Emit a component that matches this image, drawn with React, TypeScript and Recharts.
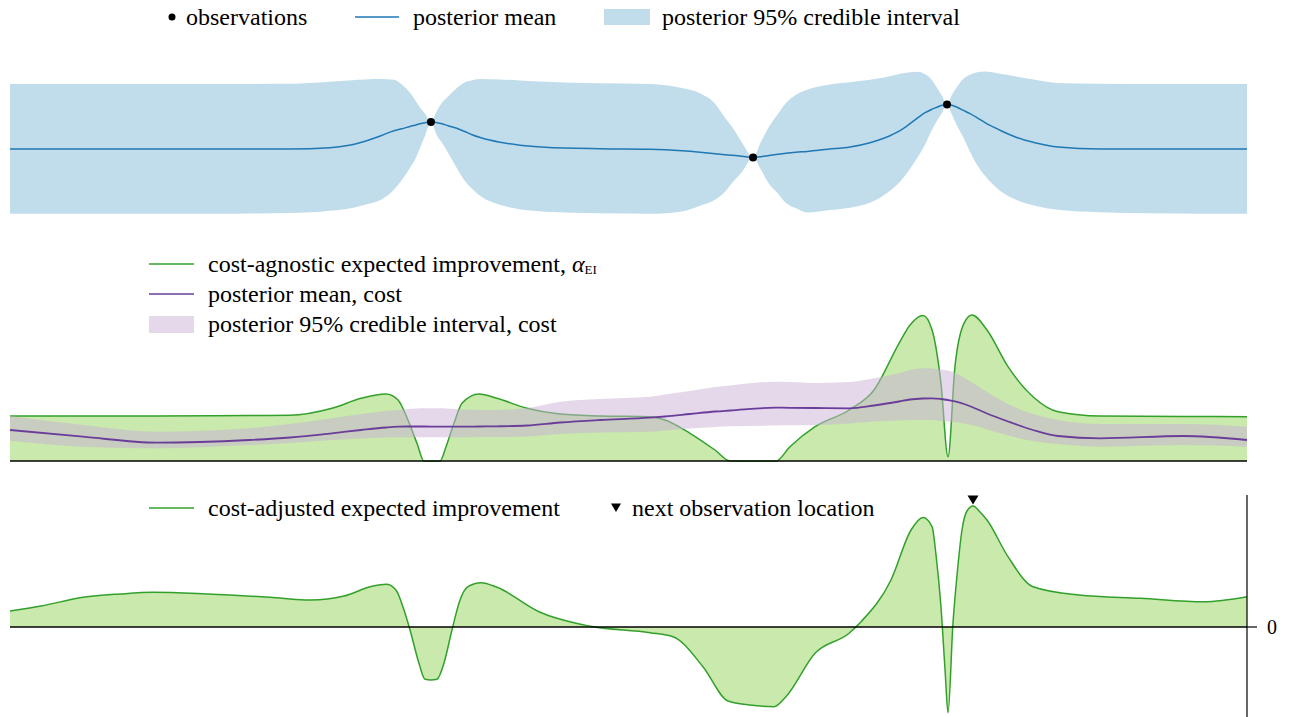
import React from 'react';
import { ComposedChart, Area, Line, Scatter, XAxis, YAxis, ReferenceLine } from 'recharts';

// top panel: objective posterior
const topX = [0, 7.28, 15.36, 22.64, 25.87, 27.65, 28.7, 29.99, 31.04, 31.69, 32.34, 32.74, 33.15, 33.55, 34.03, 34.52, 34.92, 35.41, 36.06, 36.7, 37.35, 38.08, 39.61, 41.23, 43.25, 47.7, 51.74, 54.33, 55.78, 57.0, 57.8, 58.37, 59.18, 60.07, 60.71, 61.36, 62.09, 62.73, 63.54, 64.43, 66.13, 67.91, 69.52, 71.14, 71.95, 72.76, 73.4, 73.97, 74.45, 74.94, 75.34, 75.75, 76.15, 76.56, 77.04, 77.61, 78.17, 78.82, 80.03, 81.33, 82.86, 84.72, 88.12, 92.16, 96.2, 100];
const topHi = [6.5, 6.5, 6.5, 6.53, 6.73, 6.88, 6.96, 7.0, 6.93, 6.43, 5.63, 4.93, 4.13, 3.53, 2.7, 3.83, 4.63, 5.26, 6.03, 6.63, 6.88, 7.0, 6.95, 6.86, 6.73, 6.58, 6.5, 6.1, 5.58, 4.53, 3.13, 2.23, 0.63, -0.84, 0.73, 2.23, 3.53, 4.6, 5.43, 5.93, 6.43, 6.68, 6.93, 7.28, 7.53, 7.68, 7.73, 7.48, 7.03, 6.13, 5.33, 4.46, 5.43, 6.23, 6.98, 7.43, 7.68, 7.76, 7.53, 7.26, 6.93, 6.6, 6.53, 6.5, 6.5, 6.5];
const topLo = [-6.47, -6.47, -6.47, -6.4, -6.17, -5.9, -5.57, -5.07, -4.07, -3.07, -1.87, -1.07, 0.13, 1.33, 2.7, 1.33, 0.63, -0.37, -1.77, -3.07, -3.97, -4.74, -5.57, -6.02, -6.27, -6.42, -6.47, -6.24, -5.67, -5.07, -4.27, -3.4, -2.27, -0.84, -2.07, -3.47, -4.47, -5.4, -5.92, -6.34, -6.12, -5.87, -5.37, -4.17, -3.27, -1.97, -0.77, 0.43, 1.73, 2.83, 3.63, 4.46, 3.43, 2.33, 1.23, -0.27, -1.57, -2.67, -4.17, -5.07, -5.67, -6.07, -6.32, -6.42, -6.47, -6.47];
const topMean = [0, 0, 0, 0, 0.13, 0.43, 0.78, 1.33, 1.83, 2.03, 2.26, 2.38, 2.53, 2.63, 2.7, 2.63, 2.53, 2.33, 2.1, 1.78, 1.43, 1.13, 0.68, 0.38, 0.18, 0.03, -0.02, -0.17, -0.32, -0.47, -0.57, -0.62, -0.72, -0.84, -0.77, -0.65, -0.52, -0.42, -0.32, -0.24, -0.02, 0.2, 0.63, 1.33, 1.83, 2.53, 3.13, 3.63, 3.93, 4.18, 4.38, 4.46, 4.38, 4.18, 3.88, 3.53, 3.13, 2.63, 1.88, 1.18, 0.63, 0.2, 0, 0, 0, 0];
const obsX = [34.03, 60.07, 75.75];
const obsY = [2.7, -0.84, 4.46];

// middle panel: cost-agnostic EI and cost model
const midX = [0, 5.9, 11.88, 19.32, 22.64, 26.03, 28.38, 30.4, 31.37, 32.17, 32.9, 33.47, 34.76, 35.25, 35.89, 36.54, 37.91, 39.37, 41.79, 44.46, 47.7, 51.74, 52.95, 54.97, 56.99, 58.21, 61.92, 63.05, 65.08, 67.83, 69.85, 71.87, 72.76, 73.81, 74.54, 75.26, 75.83, 76.39, 77.12, 77.77, 78.98, 80.68, 82.7, 84.72, 88.12, 94.83, 100];
const eiAgnostic = [4.5, 4.5, 4.5, 4.55, 4.57, 5.27, 6.27, 6.7, 6.1, 4.1, 1.77, 0, 0, 1.43, 3.77, 5.77, 6.7, 6.27, 5.27, 4.7, 4.5, 4.43, 4.1, 2.77, 1.1, 0, 0, 1.43, 3.43, 5.1, 7.1, 11.77, 13.6, 14.55, 13.1, 7.77, 0.43, 9.43, 13.77, 14.6, 13.1, 9.43, 6.43, 4.93, 4.5, 4.45, 4.43];
const costMean = [3.1, 2.43, 1.83, 2.1, 2.35, 2.77, 3.1, 3.35, 3.43, 3.45, 3.45, 3.45, 3.43, 3.43, 3.43, 3.43, 3.45, 3.47, 3.55, 3.85, 4.1, 4.33, 4.45, 4.7, 4.95, 5.05, 5.33, 5.32, 5.3, 5.27, 5.55, 5.95, 6.15, 6.25, 6.27, 6.2, 6.1, 5.97, 5.7, 5.4, 4.75, 3.95, 3.1, 2.5, 2.27, 2.5, 2.1];
const costHi = [4.5, 3.6, 2.93, 3.27, 3.7, 4.27, 4.7, 5.0, 5.1, 5.2, 5.25, 5.27, 5.27, 5.25, 5.2, 5.15, 5.1, 5.1, 5.3, 5.93, 6.2, 6.43, 6.65, 7.0, 7.4, 7.55, 7.93, 7.9, 7.8, 7.9, 8.27, 8.8, 9.1, 9.27, 9.25, 9.15, 9.05, 8.8, 8.35, 7.85, 6.9, 5.7, 4.7, 4.1, 3.7, 3.7, 3.43];
const costLo = [2.03, 1.43, 1.27, 1.6, 1.8, 2.1, 2.25, 2.35, 2.37, 2.37, 2.37, 2.37, 2.37, 2.37, 2.37, 2.37, 2.4, 2.4, 2.45, 2.7, 2.85, 2.93, 3.05, 3.25, 3.4, 3.47, 3.55, 3.57, 3.6, 3.75, 3.95, 4.05, 4.1, 4.1, 4.1, 4.0, 3.95, 3.9, 3.75, 3.6, 3.15, 2.55, 2.0, 1.7, 1.43, 1.6, 1.43];

// bottom panel: cost-adjusted EI
const botX = [0, 2.51, 5.9, 8.89, 11.56, 15.93, 21.02, 24.33, 27.0, 29.35, 30.4, 31.2, 31.85, 32.34, 33.06, 33.55, 34.03, 34.52, 35.08, 35.73, 36.38, 37.02, 38.08, 39.37, 42.76, 46.81, 51.74, 53.6, 56.02, 58.04, 59.82, 61.76, 62.73, 65.08, 67.83, 68.8, 71.22, 72.84, 73.81, 74.54, 74.86, 75.26, 75.59, 75.83, 76.23, 76.56, 76.96, 77.36, 77.85, 78.42, 78.98, 80.68, 82.7, 86.42, 91.43, 96.52, 100];
const eiAdjusted = [1.6, 2.1, 2.97, 3.3, 3.47, 3.3, 2.97, 2.7, 3.1, 4.1, 4.27, 3.7, 1.7, -0.3, -3.63, -5.23, -5.3, -5.23, -3.63, -0.3, 2.7, 4.03, 4.43, 3.97, 1.53, 0.1, -0.57, -0.97, -3.97, -7.4, -7.8, -7.97, -6.97, -2.63, -0.63, 0.53, 4.7, 9.7, 10.95, 10.03, 7.2, 2.03, -4.3, -8.57, 0.37, 5.2, 9.7, 11.6, 12.1, 11.5, 10.7, 7.03, 4.03, 3.2, 2.87, 2.53, 3.03];
const nextX = [77.85];
const nextY = [12.7];
const zeroTick = [0];

const topRows = topX.map((x, i) => ({ x, mean: topMean[i], band: [topLo[i], topHi[i]] }));
const obsRows = obsX.map((x, i) => ({ x, y: obsY[i] }));
const midRows = midX.map((x, i) => ({ x, ei: eiAgnostic[i], cost: costMean[i], costBand: [costLo[i], costHi[i]] }));
const botRows = botX.map((x, i) => ({ x, ei: eiAdjusted[i] }));
const nextRows = nextX.map((x, i) => ({ x, y: nextY[i] }));

const FONT = '"Liberation Serif", "DejaVu Serif", serif';
const W = 1295;
const BLUE = '#1f78b4';
const LBLUE = '#a6cee3';
const GREEN = '#33a02c';
const LGREEN = '#b2df8a';
const PURPLE = '#6a3d9a';
const LPURPLE = '#cab2d6';

const Dot = (p: any) => <circle cx={p.cx} cy={p.cy} r={4} fill="#000" />;
const DownTri = (p: any) => (
  <path d={`M${p.cx - 5.5},${p.cy - 4.5}L${p.cx + 5.5},${p.cy - 4.5}L${p.cx},${p.cy + 4.5}Z`} fill="#000" />
);

const Legends = () => {
  const t = { style: { fontFamily: FONT, fontSize: 24 }, fill: '#000', dominantBaseline: 'central' as const };
  return (
    <svg width={W} height={717} style={{ position: 'absolute', left: 0, top: 0, pointerEvents: 'none' }}>
      <circle cx={172} cy={17} r={3.5} fill="#000" />
      <text x={186} y={17} {...t}>observations</text>
      <line x1={355} x2={399} y1={17} y2={17} stroke={BLUE} strokeWidth={1.5} />
      <text x={413} y={17} {...t}>posterior mean</text>
      <rect x={604} y={9} width={46} height={16} fill={LBLUE} fillOpacity={0.7} />
      <text x={662} y={17} {...t}>posterior 95% credible interval</text>

      <line x1={149} x2={194} y1={264} y2={264} stroke={GREEN} strokeWidth={1.5} />
      <text x={208} y={264} {...t}>
        cost-agnostic expected improvement, <tspan fontStyle="italic">α</tspan>
        <tspan style={{ fontSize: 13 }} dy={5}>EI</tspan>
      </text>
      <line x1={149} x2={194} y1={294} y2={294} stroke={PURPLE} strokeWidth={1.5} />
      <text x={208} y={294} {...t}>posterior mean, cost</text>
      <rect x={149} y={316} width={45} height={17} fill={LPURPLE} fillOpacity={0.5} />
      <text x={208} y={324} {...t}>posterior 95% credible interval, cost</text>

      <line x1={149} x2={194} y1={508} y2={508} stroke={GREEN} strokeWidth={1.5} />
      <text x={208} y={508} {...t}>cost-adjusted expected improvement</text>
      <path d="M611,503.5L621,503.5L616,512Z" fill="#000" />
      <text x={632} y={508} {...t}>next observation location</text>
    </svg>
  );
};

export default function App() {
  return (
    <div style={{ position: 'absolute', left: 0, top: 0, width: W, height: 717, background: '#fff', fontFamily: FONT }}>
      <div style={{ position: 'absolute', left: 0, top: 0 }}>
        <ComposedChart width={W} height={240} data={topRows} margin={{ top: 59, right: 48, bottom: 21, left: 10 }}>
          <XAxis dataKey="x" type="number" domain={[0, 100]} hide />
          <YAxis type="number" domain={[-7, 9]} hide />
          <Area dataKey="band" type="monotone" stroke="none" fill={LBLUE} fillOpacity={0.7} isAnimationActive={false} />
          <Line dataKey="mean" type="monotone" stroke={BLUE} strokeWidth={1.5} dot={false} isAnimationActive={false} />
          <Scatter data={obsRows} dataKey="y" shape={Dot} isAnimationActive={false} />
        </ComposedChart>
      </div>

      <div style={{ position: 'absolute', left: 0, top: 290 }}>
        <ComposedChart width={W} height={180} data={midRows} margin={{ top: 11, right: 48, bottom: 9, left: 10 }}>
          <XAxis dataKey="x" type="number" domain={[0, 100]} hide />
          <YAxis type="number" domain={[0, 16]} hide />
          <Area dataKey="ei" type="monotone" baseValue={0} stroke={GREEN} strokeWidth={1.5} fill={LGREEN} fillOpacity={0.7} isAnimationActive={false} />
          <Area dataKey="costBand" type="monotone" stroke="none" fill={LPURPLE} fillOpacity={0.5} isAnimationActive={false} />
          <Line dataKey="cost" type="monotone" stroke={PURPLE} strokeWidth={1.8} dot={false} isAnimationActive={false} />
          <ReferenceLine y={0} stroke="#000" strokeWidth={1.5} />
        </ComposedChart>
      </div>

      <div style={{ position: 'absolute', left: 0, top: 490 }}>
        <ComposedChart width={W} height={227} data={botRows} margin={{ top: 5, right: 0, bottom: 0, left: 10 }}>
          <XAxis dataKey="x" type="number" domain={[0, 100]} hide />
          <YAxis
            type="number"
            orientation="right"
            domain={[-9, 13.2]}
            ticks={zeroTick}
            width={48}
            axisLine={{ stroke: '#000', strokeWidth: 1.2 }}
            tickLine={{ stroke: '#000', strokeWidth: 1.2 }}
            tickSize={10}
            tickMargin={10}
            tick={{ fill: '#000', fontSize: 20, fontFamily: FONT }}
          />
          <Area dataKey="ei" type="monotone" baseValue={0} stroke={GREEN} strokeWidth={1.5} fill={LGREEN} fillOpacity={0.7} isAnimationActive={false} />
          <ReferenceLine y={0} stroke="#000" strokeWidth={1.5} />
          <Scatter data={nextRows} dataKey="y" shape={DownTri} isAnimationActive={false} />
        </ComposedChart>
      </div>

      <Legends />
    </div>
  );
}
